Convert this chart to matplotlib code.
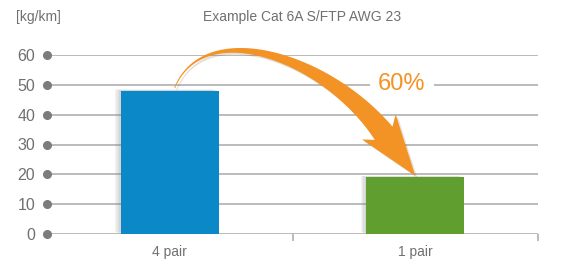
import numpy as np
import matplotlib
matplotlib.use("Agg")
import matplotlib.pyplot as plt
from matplotlib.patches import Polygon
import matplotlib.patheffects as pe

# data
categories = ["4 pair", "1 pair"]
weights = [48, 19]
bar_colors = ["#0A88C8", "#5F9E2F"]
yticks = [0, 10, 20, 30, 40, 50, 60]
title = "Example Cat 6A S/FTP AWG 23"
unit = "[kg/km]"
reduction = "60%"

ORANGE = "#F39325"
GRID = "#A8A8A8"
TEXT = "#707070"

plt.rcParams["font.family"] = ["Liberation Sans", "DejaVu Sans"]


def curved_arrow(ax, start, tip, lift=(30, 72), bend=95, head_len=53, head_w=42,
                 barb=8, w0=1.0, w1=22):
    """Tapered bent arrow from start to tip (data coords); shape given in pixels."""
    T = ax.transData
    p0 = T.transform(start)
    pt = T.transform(tip)
    d = np.array([0.597, -0.802])                  # head direction (display, y up)
    p2 = pt - head_len * d                         # end of the shaft
    c1 = p0 + np.array(lift)
    c2 = p2 - bend * d
    t = np.linspace(0, 1, 100)[:, None]
    b = ((1 - t) ** 3 * p0 + 3 * t * (1 - t) ** 2 * c1
         + 3 * t ** 2 * (1 - t) * c2 + t ** 3 * p2)
    db = (3 * (1 - t) ** 2 * (c1 - p0) + 6 * t * (1 - t) * (c2 - c1)
          + 3 * t ** 2 * (p2 - c2))
    db /= np.linalg.norm(db, axis=1, keepdims=True)
    n = np.column_stack([-db[:, 1], db[:, 0]])
    w = (w0 + (w1 - w0) * t ** 1.7) / 2
    left, right = b + n * w, b - n * w
    ne = n[-1]
    head = [p2 - barb * d + ne * head_w / 2, pt, p2 - barb * d - ne * head_w / 2]
    pts = np.vstack([left, head, right[::-1]])
    poly = Polygon(T.inverted().transform(pts), closed=True, facecolor=ORANGE,
                   edgecolor="none", zorder=5, clip_on=False)
    poly.set_path_effects([pe.SimplePatchShadow(offset=(1.5, -1.5), alpha=0.15), pe.Normal()])
    ax.add_patch(poly)


fig = plt.figure(figsize=(5.61, 2.72), dpi=100)
ax = fig.add_axes([47 / 561, 38 / 272, 491 / 561, 179 / 272])
ax.set_xlim(-0.5, 1.5)
ax.set_ylim(0, 60)
for s in ax.spines.values():
    s.set_visible(False)

x = np.arange(len(categories))
for y in yticks:
    ax.axhline(y, color=GRID, lw=1.1, zorder=1)
ax.plot([-0.5] * len(yticks), yticks, "o", ms=5.5, color="#7C7C7C", clip_on=False, zorder=3)

bars = ax.bar(x, weights, width=0.4, color=bar_colors, zorder=2)
shadow = [pe.SimplePatchShadow(offset=(-k, 0.3 * k), shadow_rgbFace="#808080", alpha=0.09)
          for k in (4, 3, 2, 1)] + [pe.Normal()]
for b in bars:
    b.set_path_effects(shadow)

ax.set_yticks(yticks)
ax.set_yticklabels([str(v) for v in yticks], fontsize=11.5, color=TEXT)
ax.tick_params(axis="y", length=0, pad=8.5)
ax.set_xticks(x)
ax.set_xticklabels(categories, fontsize=10, color=TEXT)
ax.set_xticks([0.5, 1.5], minor=True)
ax.tick_params(axis="x", which="major", length=0, pad=8)
ax.tick_params(axis="x", which="minor", length=5, width=1.1, color=GRID)

curved_arrow(ax, (x[0] + 0.02, weights[0] + 1), (x[1], weights[1] + 0.5))
ax.text(0.945, 50.3, reduction, fontsize=17, color=ORANGE, ha="center", va="center",
        zorder=4, bbox=dict(boxstyle="square,pad=0.35", fc="white", ec="none"))

fig.text(302 / 561, 1 - 17 / 272, title, ha="center", va="center", fontsize=10, color=TEXT)
fig.text(16 / 561, 1 - 17 / 272, unit, ha="left", va="center", fontsize=10, color=TEXT)

fig.savefig("out.png", dpi=100, facecolor="white")
